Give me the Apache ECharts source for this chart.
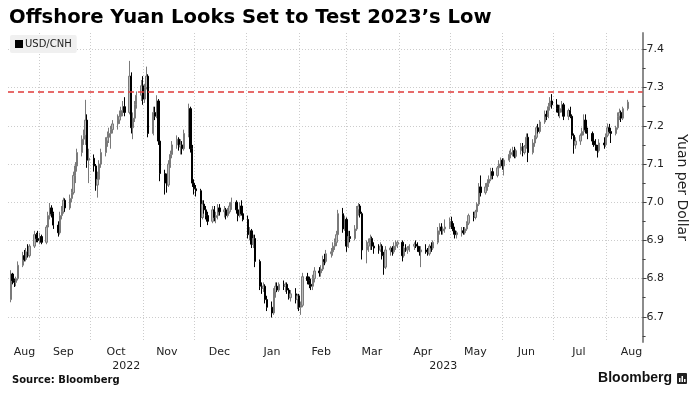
<!DOCTYPE html>
<html><head><meta charset="utf-8">
<script src="https://cdn.jsdelivr.net/npm/echarts@6/dist/echarts.min.js"></script>
<style>html,body{margin:0;padding:0;background:#fff}#c{width:697px;height:399px}</style>
</head><body><div id="c"></div><script>
const titleText = 'Offshore Yuan Looks Set to Test 2023’s Low';
const seriesName = 'USD/CNH';
const refLevel = 7.285;
const yTicks = [6.7, 6.8, 6.9, 7.0, 7.1, 7.2, 7.3, 7.4];
const yMinorTicks = [6.65, 6.75, 6.85, 6.95, 7.05, 7.15, 7.25, 7.35];
const monthNames = ['Jan','Feb','Mar','Apr','May','Jun','Jul','Aug','Sep','Oct','Nov','Dec'];
const monthStarts = ['2022-09-01','2022-10-01','2022-11-01','2022-12-01','2023-01-01','2023-02-01','2023-03-01','2023-04-01','2023-05-01','2023-06-01','2023-07-01','2023-08-01'];
const monthLabelDates = ['2022-08-23','2022-09-15','2022-10-16','2022-11-15','2022-12-16','2023-01-16','2023-02-14','2023-03-16','2023-04-15','2023-05-16','2023-06-15','2023-07-16','2023-08-16'];
const yearLabelDates = ['2022-10-22','2023-04-27'];

// rows: [day, open, high, low, close]
const aug22 = [[15,6.745,6.822,6.738,6.812],[16,6.812,6.815,6.785,6.795],[17,6.795,6.800,6.778,6.790],[18,6.790,6.805,6.780,6.800],[19,6.800,6.845,6.795,6.835],[22,6.835,6.870,6.830,6.860],[23,6.860,6.875,6.845,6.850],[24,6.850,6.880,6.845,6.870],[25,6.870,6.890,6.855,6.860],[26,6.860,6.890,6.855,6.885],[29,6.885,6.925,6.880,6.915],[30,6.915,6.920,6.895,6.905],[31,6.905,6.925,6.895,6.900]];
const sep22 = [[1,6.900,6.920,6.890,6.910],[2,6.910,6.915,6.890,6.895],[5,6.895,6.940,6.890,6.935],[6,6.935,6.975,6.930,6.965],[7,6.965,6.998,6.955,6.985],[8,6.985,6.992,6.960,6.970],[9,6.970,6.975,6.930,6.940],[12,6.940,6.950,6.910,6.920],[13,6.920,6.975,6.915,6.965],[14,6.965,6.990,6.955,6.975],[15,6.975,7.012,6.970,7.005],[16,7.005,7.010,6.975,6.985],[19,6.985,7.020,6.980,7.010],[20,7.010,7.035,7.000,7.025],[21,7.025,7.080,7.020,7.070],[22,7.070,7.105,7.050,7.095],[23,7.095,7.140,7.080,7.130],[26,7.130,7.175,7.120,7.165],[27,7.165,7.190,7.150,7.175],[28,7.175,7.268,7.150,7.215],[29,7.215,7.230,7.090,7.110],[30,7.110,7.140,7.050,7.115]];
const oct22 = [[3,7.115,7.125,7.080,7.095],[4,7.095,7.100,7.030,7.045],[5,7.045,7.080,7.012,7.060],[6,7.060,7.110,7.050,7.100],[7,7.100,7.140,7.090,7.130],[10,7.130,7.170,7.120,7.160],[11,7.160,7.185,7.145,7.170],[12,7.170,7.195,7.155,7.180],[13,7.180,7.200,7.140,7.190],[14,7.190,7.215,7.180,7.205],[17,7.205,7.230,7.190,7.215],[18,7.215,7.240,7.205,7.225],[19,7.225,7.250,7.215,7.240],[20,7.240,7.265,7.225,7.250],[21,7.250,7.275,7.225,7.235],[24,7.235,7.370,7.230,7.330],[25,7.330,7.340,7.180,7.195],[26,7.195,7.235,7.165,7.220],[27,7.220,7.265,7.210,7.255],[28,7.255,7.290,7.245,7.280],[31,7.280,7.320,7.265,7.305]];
const nov22 = [[1,7.305,7.330,7.255,7.270],[2,7.270,7.310,7.260,7.300],[3,7.300,7.355,7.295,7.330],[4,7.330,7.335,7.170,7.180],[7,7.180,7.250,7.175,7.235],[8,7.235,7.250,7.215,7.225],[9,7.225,7.280,7.220,7.265],[10,7.265,7.270,7.150,7.160],[11,7.160,7.165,7.055,7.075],[14,7.075,7.085,7.020,7.050],[15,7.050,7.075,7.025,7.045],[16,7.045,7.110,7.040,7.100],[17,7.100,7.135,7.090,7.125],[18,7.125,7.160,7.115,7.150],[21,7.150,7.175,7.140,7.165],[22,7.165,7.170,7.135,7.145],[23,7.145,7.165,7.125,7.150],[24,7.150,7.160,7.125,7.140],[25,7.140,7.190,7.135,7.180],[28,7.180,7.258,7.170,7.245],[29,7.245,7.250,7.130,7.140],[30,7.140,7.150,7.040,7.050]];
const dec22 = [[1,7.050,7.060,7.020,7.035],[2,7.035,7.045,7.015,7.030],[5,7.030,7.035,6.935,6.960],[6,6.960,7.005,6.955,6.995],[7,6.995,7.005,6.970,6.980],[8,6.980,6.990,6.955,6.965],[9,6.965,6.975,6.940,6.950],[12,6.950,6.990,6.945,6.980],[13,6.980,6.990,6.950,6.960],[14,6.960,6.975,6.945,6.965],[15,6.965,6.995,6.955,6.985],[16,6.985,6.995,6.965,6.975],[19,6.975,6.990,6.960,6.980],[20,6.980,6.985,6.955,6.965],[21,6.965,6.985,6.960,6.975],[22,6.975,7.000,6.970,6.990],[23,6.990,7.012,6.980,7.000],[26,7.000,7.005,6.970,6.980],[27,6.980,6.995,6.950,6.965],[28,6.965,7.000,6.960,6.990],[29,6.990,7.005,6.965,6.970],[30,6.970,6.980,6.950,6.955]];
const jan23 = [[2,6.955,6.965,6.905,6.915],[3,6.915,6.935,6.900,6.925],[4,6.925,6.930,6.880,6.890],[5,6.890,6.915,6.880,6.905],[6,6.905,6.915,6.830,6.845],[9,6.845,6.850,6.770,6.780],[10,6.780,6.790,6.760,6.775],[11,6.775,6.790,6.765,6.780],[12,6.780,6.785,6.735,6.745],[13,6.745,6.755,6.715,6.725],[16,6.725,6.740,6.698,6.710],[17,6.710,6.775,6.705,6.765],[18,6.765,6.790,6.750,6.780],[19,6.780,6.790,6.765,6.770],[20,6.770,6.790,6.765,6.785],[23,6.785,6.795,6.770,6.780],[24,6.780,6.790,6.765,6.785],[25,6.785,6.790,6.760,6.770],[26,6.770,6.775,6.745,6.750],[27,6.750,6.770,6.740,6.760],[30,6.760,6.775,6.735,6.745],[31,6.745,6.760,6.720,6.755]];
const feb23 = [[1,6.755,6.760,6.715,6.725],[2,6.725,6.740,6.705,6.730],[3,6.730,6.815,6.725,6.805],[6,6.805,6.815,6.785,6.795],[7,6.795,6.805,6.775,6.785],[8,6.785,6.800,6.770,6.780],[9,6.780,6.810,6.770,6.800],[10,6.800,6.830,6.790,6.820],[13,6.820,6.830,6.805,6.815],[14,6.815,6.835,6.805,6.825],[15,6.825,6.860,6.820,6.850],[16,6.850,6.865,6.835,6.845],[17,6.845,6.875,6.840,6.865],[20,6.865,6.880,6.855,6.870],[21,6.870,6.895,6.860,6.885],[22,6.885,6.905,6.875,6.895],[23,6.895,6.925,6.885,6.915],[24,6.915,6.980,6.910,6.970],[27,6.970,6.985,6.920,6.930],[28,6.930,6.965,6.925,6.955]];
const mar23 = [[1,6.955,6.960,6.870,6.885],[2,6.885,6.925,6.880,6.910],[3,6.910,6.925,6.895,6.905],[6,6.905,6.940,6.900,6.930],[7,6.930,6.990,6.925,6.980],[8,6.980,6.998,6.965,6.990],[9,6.990,6.995,6.960,6.970],[10,6.970,6.975,6.850,6.875],[13,6.875,6.900,6.840,6.885],[14,6.885,6.905,6.870,6.895],[15,6.895,6.915,6.875,6.905],[16,6.905,6.910,6.875,6.885],[17,6.885,6.895,6.865,6.880],[20,6.880,6.890,6.865,6.875],[21,6.875,6.895,6.870,6.885],[22,6.885,6.890,6.850,6.860],[23,6.860,6.870,6.810,6.830],[24,6.830,6.885,6.825,6.875],[27,6.875,6.885,6.860,6.880],[28,6.880,6.885,6.860,6.870],[29,6.870,6.895,6.865,6.885],[30,6.885,6.900,6.875,6.890],[31,6.890,6.900,6.880,6.895]];
const apr23 = [[3,6.895,6.900,6.845,6.860],[4,6.860,6.885,6.855,6.880],[5,6.880,6.890,6.870,6.875],[6,6.875,6.885,6.865,6.880],[7,6.880,6.890,6.870,6.885],[10,6.885,6.895,6.875,6.890],[11,6.890,6.900,6.880,6.885],[12,6.885,6.895,6.870,6.875],[13,6.875,6.885,6.860,6.870],[14,6.870,6.885,6.830,6.875],[17,6.875,6.890,6.865,6.870],[18,6.870,6.880,6.860,6.865],[19,6.865,6.890,6.860,6.885],[20,6.885,6.895,6.870,6.880],[21,6.880,6.900,6.875,6.895],[24,6.895,6.935,6.890,6.925],[25,6.925,6.945,6.915,6.935],[26,6.935,6.945,6.915,6.925],[27,6.925,6.935,6.915,6.930],[28,6.930,6.955,6.920,6.935]];
const may23 = [[1,6.935,6.960,6.930,6.950],[2,6.950,6.962,6.930,6.935],[3,6.935,6.945,6.915,6.925],[4,6.925,6.930,6.905,6.915],[5,6.915,6.925,6.905,6.920],[8,6.920,6.935,6.910,6.925],[9,6.925,6.935,6.915,6.920],[10,6.920,6.935,6.915,6.930],[11,6.930,6.950,6.925,6.945],[12,6.945,6.970,6.940,6.965],[15,6.965,6.975,6.950,6.960],[16,6.960,6.980,6.955,6.975],[17,6.975,7.000,6.965,6.995],[18,6.995,7.050,6.990,7.040],[19,7.040,7.070,7.015,7.025],[22,7.025,7.050,7.020,7.040],[23,7.040,7.060,7.030,7.050],[24,7.050,7.070,7.040,7.060],[25,7.060,7.090,7.055,7.080],[26,7.080,7.090,7.060,7.070],[29,7.070,7.095,7.065,7.090],[30,7.090,7.110,7.080,7.100],[31,7.100,7.117,7.090,7.110]];
const jun23 = [[1,7.110,7.115,7.085,7.095],[2,7.095,7.115,7.070,7.110],[5,7.110,7.135,7.105,7.125],[6,7.125,7.140,7.115,7.130],[7,7.130,7.145,7.120,7.135],[8,7.135,7.145,7.115,7.120],[9,7.120,7.140,7.115,7.135],[12,7.135,7.155,7.125,7.145],[13,7.145,7.155,7.120,7.130],[14,7.130,7.150,7.125,7.145],[15,7.145,7.180,7.140,7.170],[16,7.170,7.180,7.105,7.130],[19,7.130,7.165,7.125,7.155],[20,7.155,7.175,7.145,7.170],[21,7.170,7.200,7.165,7.195],[22,7.195,7.205,7.180,7.185],[23,7.185,7.215,7.180,7.210],[26,7.210,7.240,7.205,7.230],[27,7.230,7.240,7.215,7.225],[28,7.225,7.260,7.220,7.250],[29,7.250,7.275,7.240,7.265],[30,7.265,7.283,7.245,7.255]];
const jul23 = [[3,7.255,7.270,7.235,7.245],[4,7.245,7.255,7.225,7.235],[5,7.235,7.255,7.220,7.245],[6,7.245,7.265,7.235,7.255],[7,7.255,7.260,7.215,7.225],[10,7.225,7.245,7.215,7.240],[11,7.240,7.250,7.220,7.225],[12,7.225,7.230,7.165,7.175],[13,7.175,7.180,7.127,7.150],[14,7.150,7.170,7.140,7.160],[17,7.160,7.180,7.150,7.175],[18,7.175,7.195,7.165,7.185],[19,7.185,7.230,7.175,7.215],[20,7.215,7.230,7.180,7.190],[21,7.190,7.195,7.165,7.180],[24,7.180,7.185,7.150,7.160],[25,7.160,7.175,7.145,7.150],[26,7.150,7.165,7.135,7.145],[27,7.145,7.150,7.117,7.135],[28,7.135,7.165,7.130,7.155],[31,7.155,7.170,7.140,7.150]];
const aug23 = [[1,7.150,7.180,7.145,7.175],[2,7.175,7.206,7.170,7.195],[3,7.195,7.205,7.180,7.185],[4,7.185,7.195,7.155,7.180],[7,7.180,7.200,7.175,7.195],[8,7.195,7.235,7.190,7.225],[9,7.225,7.245,7.215,7.235],[10,7.235,7.240,7.210,7.220],[11,7.220,7.250,7.215,7.245],[14,7.245,7.268,7.240,7.262]];

const months = [['2022-08',aug22],['2022-09',sep22],['2022-10',oct22],['2022-11',nov22],['2022-12',dec22],['2023-01',jan23],['2023-02',feb23],['2023-03',mar23],['2023-04',apr23],['2023-05',may23],['2023-06',jun23],['2023-07',jul23],['2023-08',aug23]];

function day(str){ const p = str.split('-').map(Number); return new Date(p[0], p[1]-1, p[2] || 1).getTime(); }
const candles = [];
months.forEach(([ym, rows]) => {
  const p = ym.split('-').map(Number);
  rows.forEach(([d,o,h,l,c]) => candles.push([new Date(p[0], p[1]-1, d).getTime(), o, c, l, h]));
});

const xMin = new Date(2022, 7, 13, 7).getTime();
const xMax = new Date(2023, 7, 22, 15).getTime();
const yMin = 6.634, yMax = 7.443;
const FONT = 'DejaVu Sans';

const chart = echarts.init(document.getElementById('c'), null, {renderer:'canvas'});
chart.setOption({
  animation: false,
  backgroundColor: '#fff',
  title: { text: titleText, left: 9, top: 8, padding: 0,
    textStyle: { fontSize: 19.6, fontWeight: 'bold', color: '#000', fontFamily: 'DejaVu Sans' } },
  legend: { data: [seriesName], left: 10, top: 35, icon: 'rect', itemWidth: 8, itemHeight: 8,
    backgroundColor: '#f0f0f0', borderRadius: 2, padding: [4, 5, 4, 5],
    textStyle: { fontSize: 10, color: '#222', fontFamily: FONT, padding: [0, 0, 0, -3] },
    itemStyle: { color: '#000', borderWidth: 0 } },
  grid: { left: 8, right: 49, top: 33, bottom: 57, containLabel: false },
  xAxis: [{
    type: 'value', min: xMin, max: xMax, scale: true,
    axisLine: { show: false },
    axisTick: { show: false, customValues: monthStarts.map(day) },
    splitLine: { show: true, lineStyle: { color: '#cccccc', type: [1, 2], width: 1 } },
    axisLabel: { customValues: monthLabelDates.map(day), formatter: v => monthNames[new Date(v).getMonth()],
      color: '#222', fontSize: 11, fontFamily: FONT, margin: 5 }
  }, {
    type: 'value', min: xMin, max: xMax, scale: true, position: 'bottom',
    axisLine: { show: false }, axisTick: { show: false }, splitLine: { show: false },
    axisLabel: { customValues: yearLabelDates.map(day), formatter: v => String(new Date(v).getFullYear()),
      color: '#222', fontSize: 11, fontFamily: FONT, margin: 19 }
  }],
  yAxis: [{
    type: 'value', position: 'right', min: yMin, max: yMax,
    axisLine: { show: true, lineStyle: { color: '#8c8c8c', width: 2 } },
    axisTick: { show: true, length: 4, customValues: yTicks, lineStyle: { color: '#444' } },
    axisLabel: { customValues: yTicks, formatter: v => v.toFixed(1), color: '#222', fontSize: 11, fontFamily: FONT, margin: 4 },
    splitLine: { show: true, lineStyle: { color: '#cccccc', type: [1, 2], width: 1 } },
    name: 'Yuan per Dollar', nameLocation: 'middle', nameRotate: -90, nameGap: 29,
    nameTextStyle: { fontSize: 14, color: '#222', fontFamily: FONT }
  }, {
    type: 'value', position: 'right', min: yMin, max: yMax,
    axisLine: { show: false },
    axisTick: { show: true, length: 3, customValues: yMinorTicks, lineStyle: { color: '#444' } },
    axisLabel: { show: false }, splitLine: { show: false }
  }],
  series: [{
    name: seriesName, type: 'candlestick', xAxisIndex: 0, yAxisIndex: 0,
    barWidth: 1.8,
    itemStyle: { color: '#bdbdbd', borderColor: '#7a7a7a', color0: '#000', borderColor0: '#000', borderWidth: 1 },
    data: candles,
    markLine: { silent: true, symbol: ['none', 'none'], label: { show: false },
      lineStyle: { color: '#e03a3a', type: [6, 4], width: 1.5 },
      data: [{ yAxis: refLevel }] }
  }],
  graphic: [
    { type: 'text', left: 12, top: 375, style: { text: 'Source: Bloomberg', font: 'bold 10px "DejaVu Sans"', fill: '#111' } },
    { type: 'text', right: 25, top: 371, style: { text: 'Bloomberg', font: 'bold 14px "Liberation Sans"', fill: '#111' } },
    { type: 'rect', left: 677, top: 373, shape: { width: 10, height: 11, r: 1 }, style: { fill: '#222' } },
    { type: 'rect', left: 679, top: 378, shape: { width: 1.5, height: 4 }, style: { fill: '#fff' } },
    { type: 'rect', left: 681.5, top: 376, shape: { width: 1.5, height: 6 }, style: { fill: '#fff' } },
    { type: 'rect', left: 684, top: 379, shape: { width: 1.5, height: 3 }, style: { fill: '#fff' } }
  ]
});
</script></body></html>
